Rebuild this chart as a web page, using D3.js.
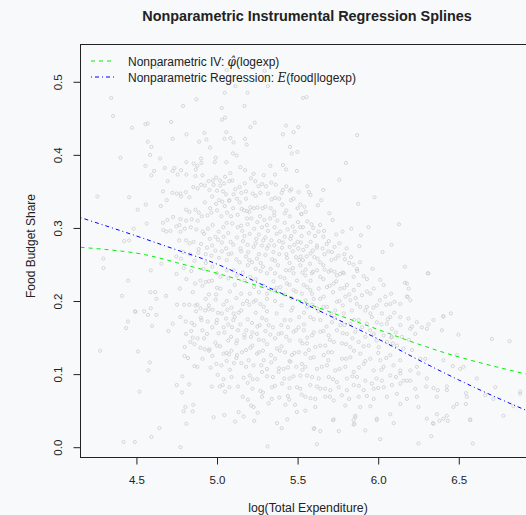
<!DOCTYPE html>
<html>
<head>
<meta charset="utf-8">
<script src="https://cdn.jsdelivr.net/npm/d3@7"></script>
<style>
  body { margin: 0; background: #f8f9fb; }
  svg { display: block; font-family: "Liberation Sans", Arial, sans-serif; }
</style>
</head>
<body>
<svg id="chart" width="526" height="515"></svg>
<script>
// axis ticks
const xTicks = [4.5, 5.0, 5.5, 6.0, 6.5];
const yTicks = [0.0, 0.1, 0.2, 0.3, 0.4, 0.5];

// fitted curves
const curveLogexp = [4.153, 4.5, 4.75, 5.0, 5.25, 5.5, 5.75, 6.0, 6.25, 6.5, 6.75, 6.976];
const ivFit  = [0.2735, 0.2655, 0.2525, 0.238, 0.221, 0.2015, 0.181, 0.161, 0.141, 0.1235, 0.109, 0.097];
const regFit = [0.3142, 0.289, 0.270, 0.2505, 0.2255, 0.2005, 0.1745, 0.148, 0.1195, 0.092, 0.0665, 0.045];

// scatter: [logexp, food share]
const foodPoints = [
  [4.628,0.521],[4.80,0.527],[5.06,0.516],[5.295,0.515],
  [4.343,0.478],[4.355,0.453],[4.872,0.476],[4.789,0.467],[5.048,0.485],[5.114,0.494],[5.190,0.485],[5.316,0.494],
  [5.029,0.464],[5.170,0.467],[5.050,0.451],[5.031,0.448],[5.533,0.478],[4.473,0.437],[4.556,0.442],[4.570,0.443],
  [4.715,0.445],[5.234,0.444],[5.207,0.438],[5.428,0.440],[5.504,0.438],[5.058,0.431],[4.922,0.430],[4.810,0.428],
  [4.725,0.422],[4.889,0.418],[4.934,0.421],[5.046,0.422],[5.083,0.423],[5.103,0.417],[5.174,0.422],[5.184,0.414],
  [5.409,0.428],[5.475,0.431],[4.570,0.418],[4.593,0.411],[4.957,0.410],[5.453,0.411],[5.463,0.402],[5.498,0.404],
  [4.585,0.400],[4.401,0.396],[4.647,0.395],[5.099,0.402],[5.122,0.399],[4.992,0.396],[4.901,0.395],[5.058,0.390],
  [4.810,0.390],[4.855,0.388],[4.878,0.385],[4.868,0.380],[4.903,0.389],[4.556,0.385],[4.736,0.382],[4.676,0.382],
  [4.725,0.378],[4.777,0.379],[4.756,0.373],[4.810,0.373],[4.610,0.378],[4.593,0.372],[4.986,0.390],[5.145,0.383],
  [5.174,0.379],[5.083,0.375],[5.227,0.374],[5.331,0.385],[5.409,0.386],[5.428,0.380],[5.496,0.378],[4.694,0.364],
  [4.866,0.371],[4.948,0.364],[4.975,0.365],[4.994,0.369],[5.019,0.365],[5.044,0.361],[5.077,0.364],[5.095,0.365],
  [5.114,0.353],[5.172,0.361],[5.238,0.364],[5.258,0.357],[5.304,0.357],[5.337,0.362],[5.360,0.373],[5.364,0.359],
  [5.409,0.352],[5.461,0.353],[5.506,0.349],[4.665,0.350],[4.723,0.348],[4.750,0.347],[4.773,0.347],[4.777,0.343],
  [4.806,0.349],[4.829,0.342],[4.853,0.356],[4.880,0.354],[4.901,0.359],[4.924,0.358],[4.953,0.352],[4.979,0.359],
  [5.000,0.351],[5.037,0.350],[5.056,0.346],[5.077,0.338],[5.103,0.346],[5.151,0.348],[5.180,0.350],[5.221,0.347],
  [5.269,0.348],[5.316,0.347],[5.339,0.339],[5.386,0.340],[5.401,0.348],[5.451,0.351],[5.475,0.340],[4.258,0.343],
  [4.455,0.342],[4.688,0.338],[4.558,0.332],[4.508,0.325],[4.651,0.330],[4.808,0.325],[4.829,0.322],[4.866,0.325],
  [4.887,0.321],[4.924,0.335],[4.957,0.327],[4.994,0.333],[5.013,0.338],[5.033,0.336],[5.048,0.330],[5.075,0.337],
  [5.124,0.340],[5.141,0.335],[5.153,0.326],[5.186,0.323],[5.207,0.328],[5.229,0.327],[5.252,0.328],[5.283,0.327],
  [5.333,0.327],[5.355,0.322],[5.405,0.332],[5.459,0.338],[5.517,0.332],[5.523,0.319],[4.564,0.306],[4.665,0.307],
  [4.692,0.311],[4.727,0.315],[4.773,0.312],[4.767,0.304],[4.808,0.310],[4.843,0.312],[4.880,0.310],[4.905,0.316],
  [4.940,0.317],[4.965,0.321],[5.000,0.324],[5.027,0.316],[5.062,0.321],[5.087,0.316],[5.128,0.318],[5.167,0.324],
  [5.186,0.313],[5.213,0.313],[5.267,0.316],[5.293,0.311],[5.329,0.313],[5.355,0.317],[5.374,0.310],[5.420,0.320],
  [5.451,0.316],[5.502,0.308],[4.667,0.297],[4.686,0.295],[4.711,0.296],[4.748,0.302],[4.773,0.295],[4.800,0.299],
  [4.837,0.301],[4.872,0.298],[4.911,0.295],[4.944,0.299],[4.973,0.304],[5.010,0.295],[5.039,0.301],[5.095,0.306],
  [5.128,0.301],[5.157,0.296],[5.190,0.305],[5.231,0.299],[5.279,0.301],[5.316,0.296],[5.357,0.301],[5.393,0.295],
  [5.438,0.298],[5.482,0.295],[5.517,0.301],[4.424,0.282],[4.455,0.283],[4.765,0.283],[4.808,0.283],[4.855,0.281],
  [4.901,0.278],[4.955,0.285],[5.006,0.284],[5.041,0.288],[5.085,0.281],[5.124,0.287],[5.161,0.282],[5.203,0.292],
  [5.244,0.285],[5.287,0.283],[5.337,0.283],[5.386,0.282],[5.420,0.288],[5.455,0.285],[5.500,0.281],[4.886,0.271],
  [4.938,0.273],[4.990,0.269],[5.056,0.272],[5.101,0.277],[5.145,0.272],[5.194,0.267],[5.227,0.274],[5.279,0.276],
  [5.310,0.272],[5.355,0.276],[5.403,0.273],[5.451,0.274],[5.504,0.272],[4.748,0.261],[4.777,0.258],[4.833,0.264],
  [4.884,0.266],[4.965,0.262],[5.012,0.259],[5.072,0.264],[5.120,0.257],[5.180,0.261],[5.217,0.253],[5.248,0.258],
  [5.300,0.263],[5.341,0.257],[5.386,0.264],[5.434,0.259],[5.490,0.260],[5.533,0.256],[4.296,0.245],[4.589,0.242],
  [4.655,0.251],[4.793,0.245],[4.917,0.244],[4.971,0.247],[5.103,0.242],[5.192,0.249],[5.240,0.244],[5.285,0.247],
  [5.333,0.244],[5.378,0.249],[5.428,0.242],[5.471,0.245],[5.517,0.249],
  [5.556,0.479],[5.870,0.427],[5.800,0.389],[5.759,0.366],[5.560,0.357],[5.571,0.349],[5.659,0.352],[5.647,0.338],
  [5.626,0.331],[5.542,0.329],[5.550,0.322],[5.523,0.319],[5.977,0.342],[5.876,0.333],[5.697,0.320],[5.717,0.311],
  [6.129,0.305],[5.940,0.301],[5.833,0.299],[5.779,0.295],[5.893,0.290],[5.664,0.296],[5.586,0.305],[5.597,0.300],
  [5.533,0.301],[5.630,0.295],[5.608,0.289],[5.525,0.289],[5.694,0.282],[5.680,0.278],[5.581,0.281],[5.556,0.275],
  [5.620,0.273],[5.655,0.272],[5.729,0.274],[5.804,0.272],[5.883,0.275],[6.083,0.277],[6.027,0.267],[5.535,0.270],
  [5.595,0.269],[5.713,0.267],[5.519,0.261],[5.556,0.261],[5.604,0.260],[5.624,0.258],[5.736,0.258],[5.754,0.262],
  [5.794,0.257],[5.831,0.260],[5.667,0.264],[5.577,0.251],[5.659,0.249],[5.847,0.250],[5.887,0.253],[5.868,0.244],
  [5.965,0.244],[6.166,0.247],[6.308,0.238],[5.550,0.243],[5.595,0.240],[5.667,0.243],[5.705,0.242],[5.729,0.240],
  [5.764,0.237],[6.166,0.225],[6.189,0.217],[6.183,0.206],[6.403,0.179],
  [4.448,0.228],[4.411,0.207],[4.587,0.212],[4.616,0.212],[4.624,0.203],[4.684,0.207],[4.769,0.217],[4.748,0.237],
  [4.589,0.190],[4.494,0.185],[4.548,0.186],[4.624,0.181],[4.572,0.181],[4.448,0.172],[4.436,0.163],[4.597,0.166],
  [4.698,0.159],[4.725,0.169],[4.752,0.195],[4.796,0.195],[4.829,0.195],[4.866,0.194],[4.878,0.195],[4.897,0.190],
  [4.926,0.187],[4.948,0.189],[4.973,0.188],[4.994,0.209],[4.992,0.202],[5.021,0.217],[5.041,0.195],[5.064,0.188],
  [5.006,0.184],[5.056,0.176],[5.101,0.174],[5.103,0.183],[5.134,0.184],[5.161,0.196],[5.186,0.200],[5.203,0.210],
  [5.227,0.199],[5.269,0.196],[5.310,0.210],[5.351,0.215],[5.393,0.219],[5.434,0.224],[5.475,0.215],[5.496,0.228],
  [5.527,0.210],[4.864,0.224],[4.897,0.228],[4.930,0.226],[4.969,0.228],[5.021,0.233],[5.124,0.235],[5.207,0.233],
  [5.310,0.238],[5.393,0.233],[5.475,0.238],[4.773,0.178],[4.806,0.172],[4.843,0.170],[4.903,0.174],[4.942,0.172],
  [4.996,0.170],[5.041,0.164],[5.093,0.164],[5.145,0.168],[5.182,0.160],[5.217,0.170],[5.265,0.167],[5.306,0.174],
  [5.347,0.164],[5.399,0.167],[5.455,0.174],[5.506,0.164],[4.808,0.155],[4.849,0.150],[4.880,0.149],[4.909,0.160],
  [4.938,0.155],[4.990,0.143],[5.046,0.157],[5.087,0.151],[5.124,0.146],[5.170,0.154],[5.211,0.151],[5.248,0.155],
  [5.289,0.146],[5.331,0.154],[5.382,0.155],[5.430,0.151],[5.475,0.158],[5.517,0.146],[4.275,0.132],[4.510,0.131],
  [4.800,0.137],[4.835,0.144],[4.897,0.136],[4.924,0.134],[4.953,0.134],[5.000,0.139],[5.041,0.128],[5.089,0.132],
  [5.124,0.126],[5.155,0.130],[5.207,0.136],[5.248,0.128],[5.285,0.132],[5.335,0.126],[5.372,0.135],[5.422,0.130],
  [5.465,0.126],[5.508,0.130],[4.798,0.125],[4.820,0.122],[4.583,0.116],[4.574,0.105],[4.860,0.111],[4.878,0.110],
  [4.971,0.125],[4.996,0.114],[5.027,0.112],[5.074,0.127],[5.105,0.115],[5.151,0.115],[5.196,0.119],[5.227,0.112],
  [5.275,0.112],[5.337,0.116],[5.384,0.108],[5.413,0.107],[5.455,0.117],[5.492,0.110],[5.527,0.114],[4.785,0.097],
  [4.750,0.085],[4.827,0.086],[5.004,0.099],[5.041,0.093],[5.165,0.095],[5.203,0.098],[5.221,0.093],[5.279,0.103],
  [5.347,0.096],[5.382,0.103],[5.417,0.094],[5.475,0.097],[5.517,0.098],[4.519,0.076],[4.783,0.075],[4.967,0.083],
  [5.017,0.083],[5.035,0.085],[5.077,0.082],[5.050,0.076],[5.190,0.088],[5.269,0.077],[5.285,0.075],[5.341,0.082],
  [5.403,0.087],[5.496,0.082],[5.525,0.072],[4.804,0.055],[4.853,0.058],[4.793,0.049],[4.849,0.049],[4.979,0.041],
  [5.046,0.044],[5.134,0.048],[5.165,0.042],[5.192,0.065],[5.211,0.057],[5.227,0.055],[5.252,0.047],[5.231,0.036],
  [5.279,0.069],[5.320,0.060],[5.386,0.068],[5.424,0.058],[5.448,0.065],[5.484,0.058],[5.496,0.048],[4.810,0.032],
  [5.112,0.035],[5.372,0.033],[5.401,0.026],[5.436,0.038],[4.643,0.026],[4.593,0.014],[4.420,0.007],[4.490,0.007],
  [4.773,0.000],[5.314,0.001],
  [5.548,0.235],[5.589,0.238],[5.641,0.233],[5.693,0.240],[5.744,0.235],[5.786,0.238],[5.848,0.233],[5.910,0.234],
  [6.013,0.229],[6.034,0.222],[6.178,0.224],[6.312,0.238],[5.538,0.222],[5.579,0.215],[5.631,0.217],[5.682,0.219],
  [5.724,0.224],[5.765,0.217],[5.806,0.222],[5.848,0.215],[5.899,0.208],[5.951,0.210],[5.972,0.217],[6.044,0.206],
  [6.102,0.199],[6.137,0.196],[6.178,0.206],[6.199,0.201],[6.075,0.196],[5.992,0.194],[5.930,0.192],[5.868,0.196],
  [5.827,0.201],[5.796,0.206],[5.744,0.199],[5.662,0.206],[5.600,0.203],[5.558,0.192],[5.620,0.190],[5.682,0.192],
  [5.734,0.187],[5.786,0.183],[5.837,0.187],[5.889,0.192],[5.951,0.183],[6.023,0.183],[6.075,0.178],[6.137,0.178],
  [6.188,0.176],[6.240,0.171],[6.312,0.168],[6.343,0.174],[6.405,0.179],[6.451,0.183],[6.498,0.154],[6.395,0.160],
  [6.302,0.162],[6.271,0.164],[6.199,0.162],[6.137,0.167],[6.085,0.162],[6.054,0.169],[5.992,0.171],[5.930,0.169],
  [5.879,0.174],[5.827,0.169],[5.765,0.167],[5.713,0.171],[5.641,0.174],[5.579,0.178],[5.538,0.160],[5.589,0.153],
  [5.641,0.158],[5.693,0.153],[5.744,0.160],[5.806,0.155],[5.858,0.158],[5.920,0.151],[5.972,0.155],[6.034,0.153],
  [6.085,0.151],[6.147,0.151],[6.230,0.155],[5.558,0.142],[5.610,0.137],[5.672,0.139],[5.724,0.144],[5.775,0.142],
  [5.827,0.137],[5.879,0.144],[5.941,0.139],[6.003,0.137],[6.054,0.144],[6.116,0.139],[6.157,0.135],[6.705,0.148],
  [6.815,0.145],[5.548,0.128],[5.600,0.123],[5.662,0.126],[5.713,0.130],[5.775,0.121],[5.827,0.123],[5.889,0.128],
  [5.951,0.121],[6.013,0.119],[6.075,0.126],[6.137,0.119],[6.261,0.121],[6.292,0.121],[6.405,0.119],[6.463,0.111],
  [6.488,0.126],[6.509,0.107],[6.529,0.110],[5.548,0.110],[5.620,0.107],[5.682,0.112],[5.734,0.105],[5.796,0.110],
  [5.848,0.103],[5.910,0.114],[5.972,0.105],[6.034,0.110],[6.095,0.112],[6.137,0.105],[6.199,0.105],[5.558,0.098],
  [5.631,0.094],[5.693,0.096],[5.744,0.089],[5.806,0.094],[5.868,0.096],[5.920,0.091],[5.961,0.087],[6.023,0.091],
  [6.075,0.098],[6.137,0.101],[6.157,0.091],[6.199,0.091],[6.250,0.101],[6.302,0.094],[6.612,0.094],[5.517,0.080],
  [5.579,0.085],[5.641,0.080],[5.703,0.078],[5.755,0.082],[5.806,0.078],[5.848,0.085],[5.910,0.078],[5.972,0.080],
  [6.034,0.082],[6.085,0.085],[6.137,0.087],[6.178,0.091],[6.230,0.080],[6.298,0.083],[6.343,0.081],[6.370,0.078],
  [6.426,0.083],[6.544,0.074],[6.550,0.069],[6.664,0.071],[6.726,0.082],[6.881,0.076],[5.548,0.069],[5.610,0.066],
  [5.672,0.069],[5.724,0.064],[5.775,0.071],[5.879,0.069],[5.972,0.066],[6.054,0.069],[6.116,0.073],[6.178,0.066],
  [6.240,0.069],[6.364,0.069],[6.426,0.078],[6.488,0.059],[6.544,0.059],[6.715,0.066],[6.839,0.056],[6.881,0.073],
  [5.548,0.050],[5.610,0.055],[5.724,0.038],[5.796,0.057],[5.858,0.043],[5.889,0.055],[5.951,0.056],[5.992,0.039],
  [6.075,0.045],[6.137,0.059],[6.250,0.055],[6.302,0.039],[6.343,0.032],[6.364,0.045],[6.405,0.039],[6.426,0.043],
  [6.467,0.055],[6.571,0.038],[6.777,0.043],[5.600,0.025],[5.641,0.022],[5.755,0.022],[5.848,0.031],[5.858,0.041],
  [6.013,0.011],[6.250,0.005],[6.329,0.015],[6.587,0.005],[5.620,0.004],
  [5.604,0.026],[5.719,0.037],[5.847,0.037],[5.852,0.032],[5.920,0.023],[6.096,0.033],[5.990,0.037],[6.339,0.033],
  [6.380,0.036],[6.432,0.036],[6.571,0.037],[4.483,0.299],[4.295,0.258],[4.492,0.186],
  // denser core of the cloud
  [5.10,0.327],[5.20,0.322],[5.30,0.329],[5.43,0.324],[5.50,0.327],[4.97,0.343],[5.18,0.340],[5.24,0.344],
  [5.36,0.341],[5.58,0.345],[5.02,0.358],[5.14,0.356],[5.28,0.360],[5.43,0.357],[4.91,0.372],[5.05,0.370],
  [5.21,0.368],[5.29,0.372],
  [5.06,0.307],[5.15,0.303],[5.25,0.308],[5.31,0.304],[5.42,0.307],[5.47,0.302],[5.56,0.309],[5.64,0.304],
  [4.92,0.292],[4.99,0.288],[5.07,0.293],[5.17,0.289],[5.26,0.291],[5.30,0.287],[5.37,0.292],[5.46,0.289],
  [5.57,0.293],[5.66,0.288],[5.74,0.291],[4.83,0.279],[4.97,0.276],[5.03,0.280],[5.19,0.277],[5.24,0.279],
  [5.32,0.276],[5.41,0.280],[5.48,0.277],[5.52,0.280],[5.62,0.276],[5.76,0.279],[4.79,0.267],[4.93,0.264],
  [5.03,0.268],[5.09,0.265],[5.15,0.268],[5.26,0.264],[5.35,0.267],[5.43,0.264],[5.47,0.268],[5.58,0.265],
  [5.69,0.268],[5.79,0.264],[4.86,0.255],[4.93,0.252],[5.06,0.256],[5.14,0.253],[5.20,0.256],[5.27,0.252],
  [5.36,0.255],[5.45,0.252],[5.51,0.256],[5.64,0.253],[5.71,0.256],[5.82,0.252],[4.84,0.241],[5.00,0.238],
  [5.06,0.242],[5.16,0.239],[5.27,0.241],[5.36,0.238],[5.45,0.242],[5.53,0.239],[5.62,0.242],[5.78,0.239],
  [5.87,0.241],[4.81,0.230],[4.95,0.227],[5.07,0.231],[5.17,0.228],[5.24,0.230],[5.35,0.227],[5.42,0.231],
  [5.58,0.228],[5.66,0.230],[5.74,0.227],[5.93,0.230],[4.91,0.221],[5.00,0.218],[5.11,0.222],[5.23,0.219],
  [5.29,0.221],[5.37,0.218],[5.45,0.222],[5.56,0.219],[5.70,0.221],[5.79,0.218],[5.88,0.222],[4.85,0.212],
  [4.95,0.209],[5.08,0.213],[5.15,0.210],[5.26,0.212],[5.42,0.209],[5.49,0.213],[5.59,0.210],[5.72,0.212],
  [5.82,0.209],[5.93,0.213],[6.08,0.210],[4.93,0.203],[5.06,0.200],[5.12,0.204],[5.24,0.201],[5.31,0.203],
  [5.36,0.200],[5.46,0.204],[5.55,0.201],[5.64,0.203],[5.76,0.200],[5.86,0.204],[6.01,0.201],[4.95,0.194],
  [5.09,0.191],[5.20,0.195],[5.29,0.192],[5.40,0.194],[5.47,0.191],[5.59,0.195],[5.66,0.192],[5.78,0.194],
  [5.97,0.191],[6.05,0.195],[4.87,0.186],[5.03,0.183],[5.15,0.187],[5.24,0.184],[5.31,0.186],[5.37,0.183],
  [5.46,0.187],[5.54,0.184],[5.63,0.186],[5.71,0.183],[5.92,0.187],[6.10,0.184],[4.90,0.177],[5.00,0.174],
  [5.11,0.178],[5.19,0.175],[5.28,0.177],[5.42,0.174],[5.51,0.178],[5.60,0.175],[5.73,0.177],[5.85,0.174],
  [5.96,0.178],[6.06,0.175],[4.86,0.167],[4.97,0.164],[5.07,0.168],[5.25,0.165],[5.32,0.167],[5.44,0.164],
  [5.54,0.168],[5.68,0.165],[5.79,0.167],[5.90,0.164],[6.02,0.168],[6.21,0.165],[4.84,0.159],[5.01,0.156],
  [5.13,0.160],[5.22,0.157],[5.30,0.159],[5.40,0.156],[5.49,0.160],[5.60,0.157],[5.66,0.159],[5.78,0.156],
  [5.95,0.160],[6.11,0.157],[4.92,0.149],[5.07,0.146],[5.17,0.150],[5.26,0.147],[5.36,0.149],[5.45,0.146],
  [5.56,0.150],[5.70,0.147],[5.84,0.149],[5.99,0.146],[6.08,0.150],[6.19,0.147],[4.86,0.141],[5.02,0.138],
  [5.12,0.142],[5.22,0.139],[5.31,0.141],[5.40,0.138],[5.53,0.142],[5.64,0.139],[5.80,0.141],[5.91,0.138],
  [6.09,0.142],[4.95,0.132],[5.06,0.129],[5.18,0.133],[5.26,0.130],[5.39,0.132],[5.48,0.129],[5.57,0.133],
  [5.69,0.130],[5.85,0.132],[6.00,0.129],[6.21,0.133],[4.91,0.121],[5.06,0.118],[5.12,0.122],[5.29,0.119],
  [5.36,0.121],[5.45,0.118],[5.58,0.122],[5.69,0.119],[5.80,0.121],[5.92,0.118],[6.05,0.122],[4.96,0.109],
  [5.08,0.106],[5.18,0.110],[5.31,0.107],[5.44,0.109],[5.53,0.106],[5.65,0.110],[5.76,0.107],[5.88,0.109],
  [6.02,0.106],[6.24,0.110],[5.09,0.096],[5.25,0.093],[5.31,0.097],[5.45,0.094],[5.59,0.096],[5.72,0.093],
  [5.84,0.097],[5.99,0.094],[6.11,0.096],[5.13,0.083],[5.22,0.080],[5.36,0.084],[5.45,0.081],[5.62,0.083],
  [5.67,0.080],[5.88,0.084],[6.00,0.081],[5.16,0.069],[5.34,0.066],[5.44,0.070],[5.58,0.067],[5.70,0.069],
  [5.82,0.066],[5.93,0.070]
];

// plot region (right edge runs past the window, as in the original)
const box = { left: 80.5, top: 44.5, right: 535.5, bottom: 457.5 };

const x = d3.scaleLinear().domain([4.153, 6.976]).range([box.left, box.right]);
const y = d3.scaleLinear().domain([-0.0141, 0.551]).range([box.bottom, box.top]);

const svg = d3.select("#chart");
const ink = "#222";

svg.append("defs").append("clipPath").attr("id", "plotclip")
  .append("rect")
  .attr("x", box.left).attr("y", box.top)
  .attr("width", box.right - box.left).attr("height", box.bottom - box.top);

const plot = svg.append("g").attr("clip-path", "url(#plotclip)");

// scatter
plot.selectAll("circle")
  .data(foodPoints)
  .enter()
  .append("circle")
  .attr("cx", d => x(d[0]))
  .attr("cy", d => y(d[1]))
  .attr("r", 1.6)
  .style("fill", "none")
  .style("stroke", "#cdcdcd")
  .style("stroke-width", 0.8);

// fitted curves
const fitLine = d3.line().x((d, i) => x(curveLogexp[i])).y(d => y(d)).curve(d3.curveNatural);

plot.append("path")
  .attr("d", fitLine(ivFit))
  .style("fill", "none").style("stroke", "#00ee00").style("stroke-width", 1)
  .style("stroke-dasharray", "4,4");

plot.append("path")
  .attr("d", fitLine(regFit))
  .style("fill", "none").style("stroke", "#0000ff").style("stroke-width", 1)
  .style("stroke-dasharray", "1,3,4,3");

// box
svg.append("rect")
  .attr("x", box.left).attr("y", box.top)
  .attr("width", box.right - box.left).attr("height", box.bottom - box.top)
  .style("fill", "none").style("stroke", ink).style("stroke-width", 1);

// x axis
const xAxis = svg.append("g")
  .attr("transform", `translate(0,${box.bottom})`)
  .call(d3.axisBottom(x).tickValues(xTicks).tickSize(7).tickPadding(11).tickFormat(d3.format(".1f")));
xAxis.select(".domain").remove();
xAxis.selectAll("line").attr("stroke", ink);
xAxis.selectAll("text").attr("fill", ink).style("font-size", "11.5px").style("font-family", null);

// y axis
const yAxis = svg.append("g")
  .attr("transform", `translate(${box.left},0)`)
  .call(d3.axisLeft(y).tickValues(yTicks).tickSize(7).tickFormat(d3.format(".1f")));
yAxis.select(".domain").remove();
yAxis.selectAll("line").attr("stroke", ink);
yAxis.selectAll("text")
  .attr("x", null).attr("dy", null)
  .attr("transform", "translate(-22.5,0) rotate(-90)")
  .attr("text-anchor", "middle")
  .attr("dominant-baseline", "central")
  .attr("fill", ink).style("font-size", "11.5px").style("font-family", null);

// titles
svg.append("text")
  .attr("x", 307).attr("y", 21)
  .attr("text-anchor", "middle")
  .style("font-size", "14.4px").style("font-weight", "bold").attr("fill", ink)
  .text("Nonparametric Instrumental Regression Splines");

svg.append("text")
  .attr("x", 308).attr("y", 512)
  .attr("text-anchor", "middle")
  .style("font-size", "12.3px").attr("fill", ink)
  .text("log(Total Expenditure)");

svg.append("text")
  .attr("transform", "translate(31,246) rotate(-90)")
  .attr("text-anchor", "middle")
  .attr("dominant-baseline", "central")
  .style("font-size", "12px").attr("fill", ink)
  .text("Food Budget Share");

// legend
const legend = svg.append("g");
legend.append("line")
  .attr("x1", 91).attr("x2", 115).attr("y1", 61).attr("y2", 61)
  .style("stroke", "#00ee00").style("stroke-dasharray", "4,4");
legend.append("line")
  .attr("x1", 91).attr("x2", 115).attr("y1", 77).attr("y2", 77)
  .style("stroke", "#0000ff").style("stroke-dasharray", "1,3,4,3");

const t1 = legend.append("text").attr("x", 128).attr("y", 65.5).style("font-size", "12px").attr("fill", ink);
t1.append("tspan").text("Nonparametric IV: ");
t1.append("tspan").style("font-family", "'DejaVu Serif', serif").style("font-style", "italic").text("\u03C6\u0302");
t1.append("tspan").text("(logexp)");

const t2 = legend.append("text").attr("x", 128).attr("y", 81.5).style("font-size", "12px").attr("fill", ink);
t2.append("tspan").text("Nonparametric Regression: ");
t2.append("tspan").style("font-family", "'DejaVu Serif', serif").style("font-style", "italic").text("E");
t2.append("tspan").text("(food|logexp)");
</script>
</body>
</html>
